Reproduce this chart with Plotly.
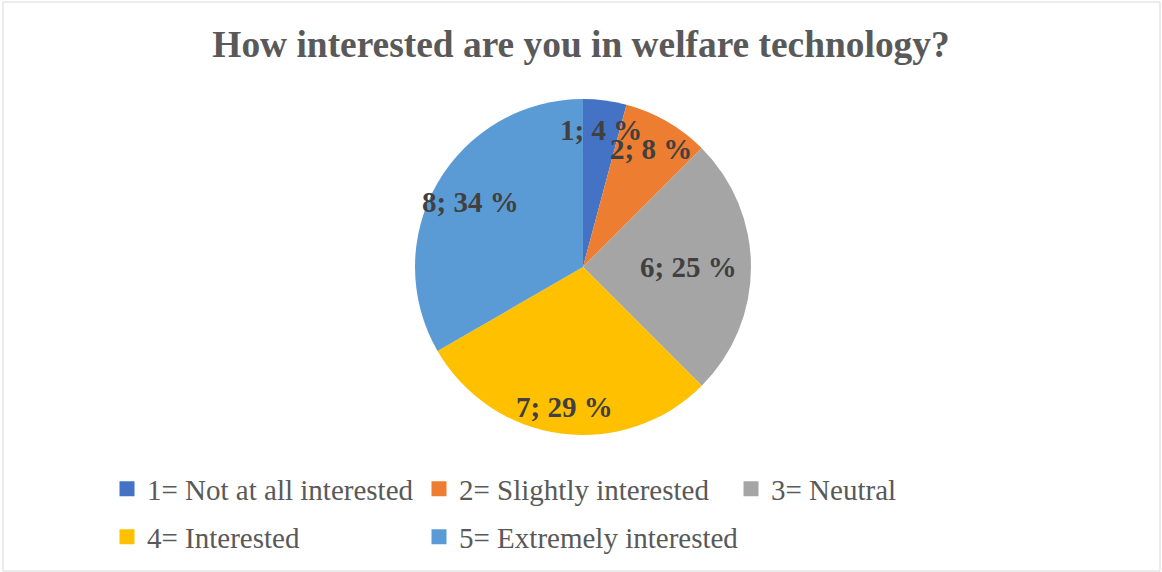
import math
import plotly.graph_objects as go

# ---- data ----
categories = ["1= Not at all interested", "2= Slightly interested", "3= Neutral",
              "4= Interested", "5= Extremely interested"]
counts = [1, 2, 6, 7, 8]
percent_labels = [4, 8, 25, 29, 34]
colors = ["#4472C4", "#ED7D31", "#A5A5A5", "#FFC000", "#5B9BD5"]

# ---- style / layout ----
W, H = 1162, 572
serif = "Liberation Serif, Times New Roman, serif"
CX, CY, R = 583, 267, 168            # pie centre / radius in pixels
label_rfrac = [0.82, 0.81, 0.63, 0.84, 0.77]   # label distance from centre (fraction of R)

slice_text = [f"{c}; {p} %" for c, p in zip(counts, percent_labels)]

fig = go.Figure()
fig.add_trace(go.Pie(
    labels=categories, values=counts, textinfo="none",
    marker=dict(colors=colors, line=dict(width=0)),
    sort=False, direction="clockwise", rotation=0, showlegend=False,
    domain=dict(x=[(CX - R) / W, (CX + R) / W], y=[(H - CY - R) / H, (H - CY + R) / H]),
    hoverinfo="label+value+percent",
))

# data labels placed at each slice's mid-angle (derived from the values)
total = sum(counts)
annotations = []
cum = 0
for c, txt, rf in zip(counts, slice_text, label_rfrac):
    mid = (cum + c / 2) / total * 2 * math.pi
    cum += c
    px = CX + rf * R * math.sin(mid)
    py = CY - rf * R * math.cos(mid)
    annotations.append(dict(
        x=px / W, y=(H - py) / H, xref="paper", yref="paper", text=txt,
        showarrow=False, xanchor="center", yanchor="middle",
        font=dict(family=serif, size=29, color="#404040", weight="bold"),
    ))

# legend entries (two rows as in the reference)
for i, (name, col) in enumerate(zip(categories, colors)):
    fig.add_trace(go.Scatter(
        x=[None], y=[None], mode="markers", name=name,
        marker=dict(symbol="square", size=15, color=col),
        legend="legend" if i < 3 else "legend2", hoverinfo="skip",
    ))
# invisible spacer so the second legend row is not clipped
fig.add_trace(go.Scatter(
    x=[None], y=[None], mode="markers", name=" ",
    marker=dict(symbol="square", size=15, color="rgba(0,0,0,0)"),
    legend="legend2", hoverinfo="skip",
))

legend_common = dict(
    orientation="h", font=dict(family=serif, size=29, color="#595959"),
    entrywidth=267, entrywidthmode="pixels", bgcolor="rgba(0,0,0,0)",
    xanchor="left", yanchor="middle", itemclick=False, itemdoubleclick=False,
)

fig.update_layout(
    width=W, height=H, autosize=False,
    font=dict(family=serif, color="#595959"),
    margin=dict(l=0, r=0, t=0, b=0),
    paper_bgcolor="white", plot_bgcolor="white",
    title=dict(text="How interested are you in welfare technology?",
               font=dict(family=serif, size=37.4, color="#595959", weight="bold"),
               x=0.5, xanchor="center", xref="paper",
               y=(H - 44) / H, yanchor="middle", yref="paper"),
    xaxis=dict(visible=False), yaxis=dict(visible=False),
    legend=dict(x=107 / W, y=(H - 489) / H, **legend_common),
    legend2=dict(x=107 / W, y=(H - 537) / H, **legend_common),
    annotations=annotations,
    shapes=[dict(type="rect", xref="paper", yref="paper",
                 x0=3 / W, x1=1160 / W, y0=1 / H, y1=(H - 2) / H,
                 line=dict(color="#D9D9D9", width=1), fillcolor="rgba(0,0,0,0)")],
)

fig.write_html("out.html", config={"displayModeBar": False},
               post_script="document.body.style.margin='0';")
